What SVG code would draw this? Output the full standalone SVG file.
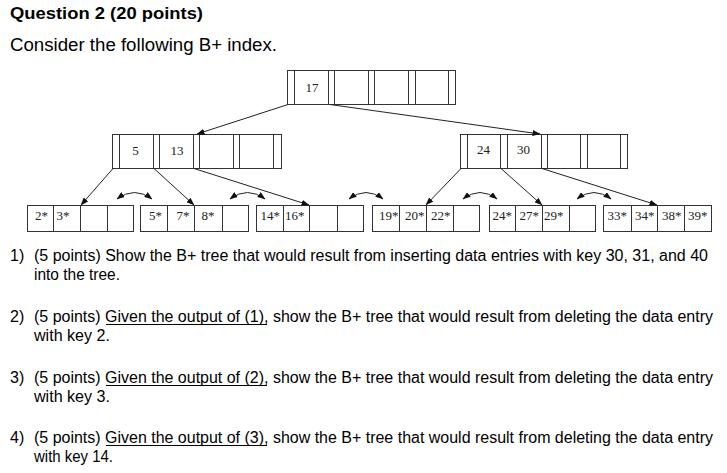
<svg xmlns="http://www.w3.org/2000/svg" width="727" height="473" viewBox="0 0 727 473">
<defs>
<marker id="ah" markerWidth="8" markerHeight="6" refX="7.5" refY="3" orient="auto" markerUnits="userSpaceOnUse"><path d="M0,0 L8,3 L0,6 z" fill="#111"/></marker>
<marker id="ah2" markerWidth="8" markerHeight="6" refX="7.5" refY="3" orient="auto-start-reverse" markerUnits="userSpaceOnUse"><path d="M0,0 L8,3 L0,6 z" fill="#111"/></marker>
</defs>
<style>
.box{fill:#fff;stroke:#333;stroke-width:1}
.sep{stroke:#333;stroke-width:1}
.k{font-family:"Liberation Serif","Times New Roman",serif;font-size:13px;fill:#222}
.km{font-family:"Liberation Serif","Times New Roman",serif;font-size:13px;fill:#222;text-anchor:middle}
.c{fill:none;stroke:#222;stroke-width:1}
.t{font-family:"Liberation Sans",Arial,sans-serif;fill:#000}
.q{font-family:"Liberation Sans",Arial,sans-serif;font-size:16px;fill:#000}
.ul{stroke:#000;stroke-width:1}
</style>
<rect width="727" height="473" fill="#fff"/>

<text class="t" x="10" y="18.5" font-size="17" font-weight="bold" textLength="193" lengthAdjust="spacingAndGlyphs">Question 2 (20 points)</text>
<text class="t" x="10" y="50.5" font-size="18" textLength="267" lengthAdjust="spacingAndGlyphs">Consider the following B+ index.</text>

<g id="node-root">
<rect class="box" x="287.5" y="70.5" width="168" height="34"/>
<path class="sep" d="M294.5,70.5V104.5M328.5,70.5V104.5M334.5,70.5V104.5M368.5,70.5V104.5M374.5,70.5V104.5M408.5,70.5V104.5M415.5,70.5V104.5M448.5,70.5V104.5"/>
<text class="km" x="312" y="91.5">17</text>
</g>

<g id="node-inner-left">
<rect class="box" x="112.5" y="134.5" width="169" height="34"/>
<path class="sep" d="M119.5,134.5V168.5M153.5,134.5V168.5M159.5,134.5V168.5M193.5,134.5V168.5M199.5,134.5V168.5M233.5,134.5V168.5M239.5,134.5V168.5M273.5,134.5V168.5"/>
<text class="km" x="135.5" y="154.5">5</text>
<text class="km" x="177" y="154.5">13</text>
</g>

<g id="node-inner-right">
<rect class="box" x="460.5" y="134.5" width="167" height="34"/>
<path class="sep" d="M467.5,134.5V168.5M500.5,134.5V168.5M507.5,134.5V168.5M541.5,134.5V168.5M547.5,134.5V168.5M580.5,134.5V168.5M587.5,134.5V168.5M620.5,134.5V168.5"/>
<text class="km" x="483.5" y="154">24</text>
<text class="km" x="523.5" y="154">30</text>
</g>

<g id="leaf-1">
<rect class="box" x="27.5" y="205.5" width="106" height="26"/>
<path class="sep" d="M53.5,205.5V231.5M80.5,205.5V231.5M107.5,205.5V231.5"/>
<text class="k" x="35" y="219.5">2*</text>
<text class="k" x="56.5" y="219.5">3*</text>
</g>
<g id="leaf-2">
<rect class="box" x="140.5" y="205.5" width="108" height="26"/>
<path class="sep" d="M167.5,205.5V231.5M194.5,205.5V231.5M222.5,205.5V231.5"/>
<text class="k" x="149" y="219.5">5*</text>
<text class="k" x="176.5" y="219.5">7*</text>
<text class="k" x="201.5" y="219.5">8*</text>
</g>
<g id="leaf-3">
<rect class="box" x="256.5" y="205.5" width="107" height="26"/>
<path class="sep" d="M283.5,205.5V231.5M309.5,205.5V231.5M337.5,205.5V231.5"/>
<text class="k" x="260.5" y="219.5">14*</text>
<text class="k" x="285" y="219.5">16*</text>
</g>
<g id="leaf-4">
<rect class="box" x="372.5" y="205.5" width="107" height="26"/>
<path class="sep" d="M399.5,205.5V231.5M426.5,205.5V231.5M453.5,205.5V231.5"/>
<text class="k" x="379" y="219.5">19*</text>
<text class="k" x="405" y="219.5">20*</text>
<text class="k" x="431" y="219.5">22*</text>
</g>
<g id="leaf-5">
<rect class="box" x="489.5" y="205.5" width="106" height="26"/>
<path class="sep" d="M515.5,205.5V231.5M542.5,205.5V231.5M569.5,205.5V231.5"/>
<text class="k" x="492.5" y="219.5">24*</text>
<text class="k" x="519.5" y="219.5">27*</text>
<text class="k" x="544" y="219.5">29*</text>
</g>
<g id="leaf-6">
<rect class="box" x="603.5" y="205.5" width="108" height="26"/>
<path class="sep" d="M631.5,205.5V231.5M657.5,205.5V231.5M684.5,205.5V231.5"/>
<text class="k" x="607.5" y="219.5">33*</text>
<text class="k" x="635" y="219.5">34*</text>
<text class="k" x="662" y="219.5">38*</text>
<text class="k" x="688" y="219.5">39*</text>
</g>

<g id="connectors">
<path class="c" marker-end="url(#ah)" d="M288,104.5L197,134"/>
<path class="c" marker-end="url(#ah)" d="M330,104.5L540,134"/>
<path class="c" marker-end="url(#ah)" d="M113,168.5L81,205"/>
<path class="c" marker-end="url(#ah)" d="M154,168.5L194,205"/>
<path class="c" marker-end="url(#ah)" d="M194,168.5L309,205"/>
<path class="c" marker-end="url(#ah)" d="M461,168.5L426,205"/>
<path class="c" marker-end="url(#ah)" d="M501,168.5L542,205"/>
<path class="c" marker-end="url(#ah)" d="M542,168.5L657,205"/>
<path class="c" marker-start="url(#ah2)" marker-end="url(#ah2)" d="M117,199Q134.5,186 152,199"/>
<path class="c" marker-start="url(#ah2)" marker-end="url(#ah2)" d="M230,199Q247.5,186 265,199"/>
<path class="c" marker-start="url(#ah2)" marker-end="url(#ah2)" d="M349,199Q366,186 383,199"/>
<path class="c" marker-start="url(#ah2)" marker-end="url(#ah2)" d="M463,199Q480,186 497,199"/>
<path class="c" marker-start="url(#ah2)" marker-end="url(#ah2)" d="M577,199Q594,186 611,199"/>
</g>

<g id="questions">
<text class="q" x="10" y="261">1)</text>
<text class="q" x="34" y="261" textLength="674" lengthAdjust="spacingAndGlyphs">(5 points) Show the B+ tree that would result from inserting data entries with key 30, 31, and 40</text>
<text class="q" x="34" y="280" textLength="86" lengthAdjust="spacingAndGlyphs">into the tree.</text>

<text class="q" x="10" y="322">2)</text>
<text class="q" x="34" y="322" textLength="679" lengthAdjust="spacingAndGlyphs">(5 points) Given the output of (1), show the B+ tree that would result from deleting the data entry</text>
<line class="ul" x1="106" y1="324.5" x2="267" y2="324.5"/>
<text class="q" x="34" y="341" textLength="76" lengthAdjust="spacingAndGlyphs">with key 2.</text>

<text class="q" x="10" y="383">3)</text>
<text class="q" x="34" y="383" textLength="679" lengthAdjust="spacingAndGlyphs">(5 points) Given the output of (2), show the B+ tree that would result from deleting the data entry</text>
<line class="ul" x1="106" y1="385.5" x2="267" y2="385.5"/>
<text class="q" x="34" y="402" textLength="76" lengthAdjust="spacingAndGlyphs">with key 3.</text>

<text class="q" x="10" y="443">4)</text>
<text class="q" x="34" y="443" textLength="679" lengthAdjust="spacingAndGlyphs">(5 points) Given the output of (3), show the B+ tree that would result from deleting the data entry</text>
<line class="ul" x1="106" y1="445.5" x2="267" y2="445.5"/>
<text class="q" x="34" y="462" textLength="79" lengthAdjust="spacingAndGlyphs">with key 14.</text>
</g>
</svg>
